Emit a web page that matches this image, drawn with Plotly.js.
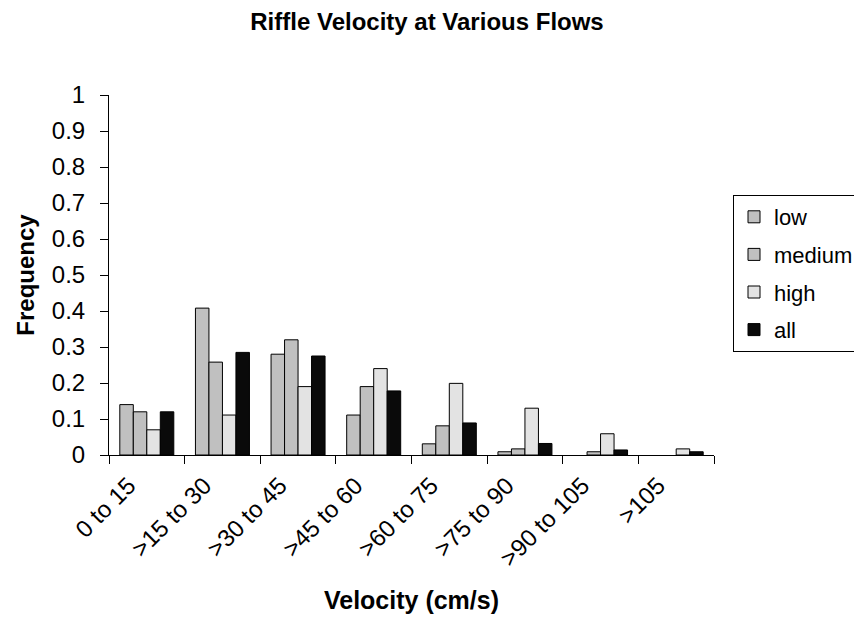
<!DOCTYPE html>
<html>
<head>
<meta charset="utf-8">
<script src="https://cdn.plot.ly/plotly-3.0.1.min.js"></script>
<style>html,body{margin:0;padding:0;background:#fff;}#chart{width:854px;height:619px;}</style>
</head>
<body>
<div id="chart"></div>
<script>
const categories = ["0 to 15", ">15 to 30", ">30 to 45", ">45 to 60", ">60 to 75", ">75 to 90", ">90 to 105", ">105"];
const lowValues    = [0.14, 0.408, 0.28, 0.111, 0.031, 0.009, 0, 0];
const mediumValues = [0.12, 0.258, 0.32, 0.19, 0.081, 0.017, 0.009, 0];
const highValues   = [0.07, 0.111, 0.19, 0.24, 0.199, 0.13, 0.059, 0.017];
const allValues    = [0.12, 0.285, 0.275, 0.178, 0.089, 0.032, 0.014, 0.009];
const seriesNames  = ["low", "medium", "high", "all"];
const seriesColors = ["#c0c0c0", "#c0c0c0", "#e3e3e3", "#0a0a0a"];
const yTickValues  = [0, 0.1, 0.2, 0.3, 0.4, 0.5, 0.6, 0.7, 0.8, 0.9, 1];

const FONT = "Liberation Sans, Arial, sans-serif";
const seriesValues = [lowValues, mediumValues, highValues, allValues];

const traces = seriesNames.map((name, i) => ({
  type: "bar",
  name: name,
  x: categories,
  y: seriesValues[i].map(v => (v === 0 ? null : v)),
  legendgroup: name,
  marker: { color: seriesColors[i], line: { color: "#000000", width: 1 } },
  hoverinfo: "x+y+name"
}));

const layout = {
  width: 854,
  height: 619,
  paper_bgcolor: "#ffffff",
  plot_bgcolor: "#ffffff",
  font: { family: FONT, size: 24, color: "#000000" },
  margin: { l: 109, r: 140, t: 95, b: 164, autoexpand: false },
  title: {
    text: "<b>Riffle Velocity at Various Flows</b>",
    font: { family: FONT, size: 24, color: "#000000" },
    x: 0.5, xref: "container", xanchor: "center",
    y: 1 - 22 / 619, yref: "container", yanchor: "middle"
  },
  barmode: "group",
  bargap: 0.286,
  bargroupgap: 0,
  showlegend: true,
  legend: {
    x: (733 - 109) / 605, xref: "paper", xanchor: "left",
    y: (455 - 195) / 360, yref: "paper", yanchor: "top",
    bordercolor: "#000000", borderwidth: 1, bgcolor: "#ffffff",
    font: { family: FONT, size: 22, color: "#000000" },
    traceorder: "grouped", tracegroupgap: 6,
    itemwidth: 30
  },
  xaxis: {
    type: "category",
    tickson: "boundaries",
    ticks: "outside", ticklen: 8, tickwidth: 1, tickcolor: "#000000",
    showline: true, linecolor: "#000000", linewidth: 1,
    showgrid: false, zeroline: false,
    tickangle: -45,
    ticklabelshift: -18,
    ticklabelstandoff: 6,
    tickfont: { family: FONT, size: 24, color: "#000000" },
    title: { text: "<b>Velocity (cm/s)</b>", font: { family: FONT, size: 25, color: "#000000" }, standoff: 20 },
    automargin: false,
    fixedrange: true
  },
  yaxis: {
    range: [0, 1],
    tickvals: yTickValues,
    ticktext: yTickValues.map(v => String(v)),
    ticks: "outside", ticklen: 8, tickwidth: 1, tickcolor: "#000000",
    showline: true, linecolor: "#000000", linewidth: 1,
    showgrid: false, zeroline: false,
    ticklabelstandoff: 10,
    tickfont: { family: FONT, size: 24, color: "#000000" },
    title: { text: "<b>Frequency</b>", font: { family: FONT, size: 24, color: "#000000" }, standoff: 10 },
    automargin: false,
    fixedrange: true
  }
};

Plotly.newPlot("chart", traces, layout, { displayModeBar: false, staticPlot: true });
</script>
</body>
</html>
